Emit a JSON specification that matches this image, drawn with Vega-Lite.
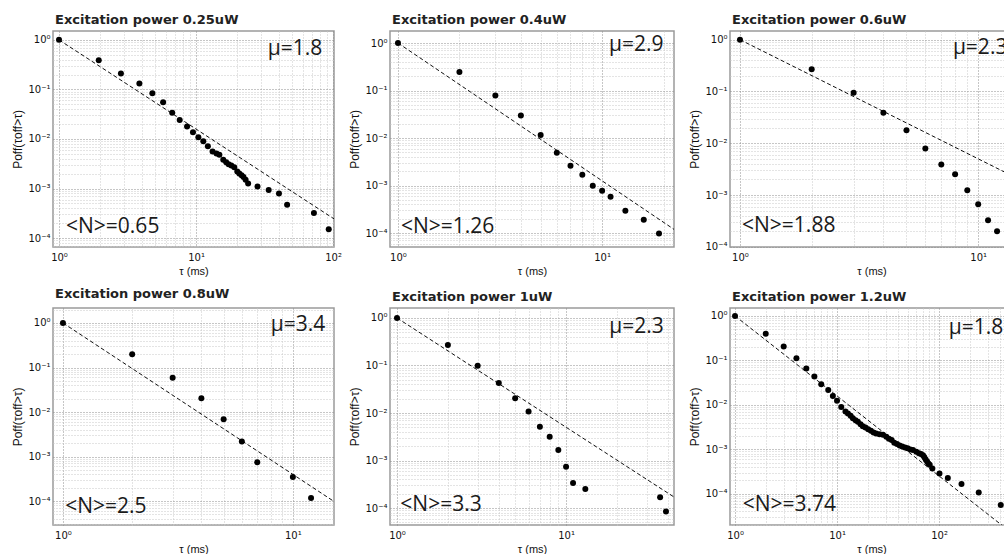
{
  "$schema": "https://vega.github.io/schema/vega-lite/v6.json",
  "background": "white",
  "padding": {"left": 11, "top": 13, "right": 0, "bottom": 0},
  "bounds": "flush",
  "columns": 3,
  "spacing": {"row": 61, "column": 56},
  "datasets": {
    "pts1": [{"tau":1,"p":1},{"tau":1.95,"p":0.39},{"tau":2.83,"p":0.21},{"tau":3.86,"p":0.131},{"tau":4.8,"p":0.084},{"tau":5.75,"p":0.055},{"tau":6.7,"p":0.034},{"tau":7.6,"p":0.0242},{"tau":8.6,"p":0.0178},{"tau":9.5,"p":0.0136},{"tau":10.4,"p":0.0108},{"tau":11.3,"p":0.009},{"tau":12.2,"p":0.0071},{"tau":13.2,"p":0.0056},{"tau":14.1,"p":0.0051},{"tau":14.8,"p":0.0048},{"tau":15.8,"p":0.0038},{"tau":16.6,"p":0.0034},{"tau":17.3,"p":0.0031},{"tau":18.1,"p":0.0029},{"tau":19,"p":0.0027},{"tau":20,"p":0.0022},{"tau":20.7,"p":0.002},{"tau":21.5,"p":0.00185},{"tau":22.2,"p":0.0017},{"tau":23,"p":0.0015},{"tau":24,"p":0.00126},{"tau":28.1,"p":0.0011},{"tau":33.9,"p":0.00093},{"tau":40.3,"p":0.00079},{"tau":46.2,"p":0.00047},{"tau":72.5,"p":0.00032},{"tau":93,"p":0.00015}],
    "pts2": [{"tau":1,"p":1},{"tau":2,"p":0.245},{"tau":3,"p":0.079},{"tau":4,"p":0.03},{"tau":5,"p":0.0116},{"tau":6,"p":0.0049},{"tau":7,"p":0.0026},{"tau":8,"p":0.00169},{"tau":9,"p":0.00099},{"tau":10,"p":0.00078},{"tau":11,"p":0.00058},{"tau":13,"p":0.000295},{"tau":16,"p":0.000191},{"tau":19,"p":0.0000985}],
    "pts3": [{"tau":1,"p":1},{"tau":2,"p":0.268},{"tau":3,"p":0.095},{"tau":4,"p":0.039},{"tau":5,"p":0.0178},{"tau":6,"p":0.0079},{"tau":7,"p":0.0039},{"tau":8,"p":0.00252},{"tau":9,"p":0.00124},{"tau":10,"p":0.000665},{"tau":11,"p":0.000327},{"tau":12,"p":0.0002}],
    "pts4": [{"tau":1,"p":1},{"tau":2,"p":0.198},{"tau":3,"p":0.059},{"tau":4,"p":0.0203},{"tau":5,"p":0.00684},{"tau":6,"p":0.00219},{"tau":7,"p":0.00074},{"tau":10,"p":0.000347},{"tau":12,"p":0.000117}],
    "pts5": [{"tau":1,"p":1},{"tau":2,"p":0.27},{"tau":3,"p":0.099},{"tau":4,"p":0.0428},{"tau":5,"p":0.0204},{"tau":6,"p":0.0107},{"tau":7,"p":0.00515},{"tau":8,"p":0.00318},{"tau":9,"p":0.00166},{"tau":10,"p":0.00074},{"tau":11,"p":0.000336},{"tau":13,"p":0.000251},{"tau":36,"p":0.000168},{"tau":39,"p":0.000085}],
    "pts6": [{"tau":1,"p":1},{"tau":2,"p":0.4},{"tau":3,"p":0.205},{"tau":4,"p":0.112},{"tau":5,"p":0.0655},{"tau":6,"p":0.0433},{"tau":7,"p":0.029},{"tau":8.2,"p":0.0217},{"tau":9.1,"p":0.0159},{"tau":10,"p":0.0123},{"tau":11,"p":0.009},{"tau":12.1,"p":0.0071},{"tau":12.8,"p":0.00638},{"tau":13.6,"p":0.00566},{"tau":14.3,"p":0.00501},{"tau":15.2,"p":0.00452},{"tau":16,"p":0.00415},{"tau":17,"p":0.00368},{"tau":17.9,"p":0.00332},{"tau":19,"p":0.0031},{"tau":20.2,"p":0.00284},{"tau":21.5,"p":0.0026},{"tau":22.8,"p":0.00239},{"tau":24.2,"p":0.00227},{"tau":26.1,"p":0.00219},{"tau":28.2,"p":0.00212},{"tau":30.4,"p":0.00191},{"tau":32.3,"p":0.00172},{"tau":34.3,"p":0.00161},{"tau":36.4,"p":0.0014},{"tau":38.7,"p":0.00131},{"tau":41.1,"p":0.00122},{"tau":43.6,"p":0.00116},{"tau":46.4,"p":0.0011},{"tau":49.2,"p":0.00106},{"tau":52.3,"p":0.00099},{"tau":55.6,"p":0.00096},{"tau":59.9,"p":0.00088},{"tau":63.6,"p":0.00081},{"tau":66.6,"p":0.00078},{"tau":69.6,"p":0.00073},{"tau":71.8,"p":0.00066},{"tau":74,"p":0.00059},{"tau":76.3,"p":0.00053},{"tau":78.6,"p":0.00048},{"tau":81,"p":0.00045},{"tau":86,"p":0.00037},{"tau":101,"p":0.000286},{"tau":122,"p":0.000225},{"tau":166,"p":0.000165},{"tau":245,"p":0.000107},{"tau":403,"p":0.000056}],
    "fit1": [{"tau":1,"p":1},{"tau":110,"p":0.0002116}],
    "fit2": [{"tau":1,"p":1},{"tau":25,"p":0.0000883}],
    "fit3": [{"tau":1,"p":1},{"tau":15,"p":0.00197}],
    "fit4": [{"tau":1,"p":1},{"tau":16,"p":0.0000805}],
    "fit5": [{"tau":1,"p":1},{"tau":45,"p":0.000158}],
    "fit6": [{"tau":1,"p":1},{"tau":600,"p":0.00001}]
  },
  "concat": [
        {
          "width": 281, "height": 216,
          "title": {"text": "Excitation power 0.25uW"},
          "layer": [
            {"data": {"name": "fit1"}, "mark": {"type": "line", "clip": true, "color": "#111", "strokeWidth": 1, "strokeDash": [4, 2.5]},
             "encoding": {
               "x": {"field": "tau", "type": "quantitative", "scale": {"type": "log", "domain": [0.904, 101.6], "nice": false},
                     "axis": {"title": "τ (ms)", "values": [1,2,3,4,5,6,7,8,9,10,20,30,40,50,60,70,80,90,100], "gridColor": {"condition": {"test": "indexof([1,10,100,0.1,0.01,0.001,0.0001], datum.value) >= 0", "value": "#8c8c8c"}, "value": "#c8c8c8"}}},
               "y": {"field": "p", "type": "quantitative", "scale": {"type": "log", "domain": [0.000066, 1.51], "nice": false},
                     "axis": {"title": "Poff(τoff>τ)", "values": [0.00007,0.00008,0.00009,0.0001,0.0002,0.0003,0.0004,0.0005,0.0006,0.0007,0.0008,0.0009,0.001,0.002,0.003,0.004,0.005,0.006,0.007,0.008,0.009,0.01,0.02,0.03,0.04,0.05,0.06,0.07,0.08,0.09,0.1,0.2,0.3,0.4,0.5,0.6,0.7,0.8,0.9,1], "gridColor": {"condition": {"test": "indexof([1,10,100,0.1,0.01,0.001,0.0001], datum.value) >= 0", "value": "#8c8c8c"}, "value": "#c8c8c8"}}}
             }},
            {"data": {"name": "pts1"}, "mark": {"type": "circle", "size": 36, "color": "#000", "opacity": 1, "clip": true},
             "encoding": {"x": {"field": "tau", "type": "quantitative"}, "y": {"field": "p", "type": "quantitative"}}},
            {"data": {"values": [{}]}, "mark": {"type": "text", "text": "μ=1.8", "align": "left", "baseline": "alphabetic", "font": "Open Sans", "fontSize": 21, "color": "#1a1a1a"},
             "encoding": {"x": {"datum": 33.4}, "y": {"datum": 0.498}}},
            {"data": {"values": [{}]}, "mark": {"type": "text", "text": "<N>=0.65", "align": "left", "baseline": "alphabetic", "font": "Open Sans", "fontSize": 21, "color": "#1a1a1a"},
             "encoding": {"x": {"datum": 1.125}, "y": {"datum": 0.000126}}}
          ]
        },
        {
          "width": 284, "height": 216,
          "title": {"text": "Excitation power 0.4uW"},
          "layer": [
            {"data": {"name": "fit2"}, "mark": {"type": "line", "clip": true, "color": "#111", "strokeWidth": 1, "strokeDash": [4, 2.5]},
             "encoding": {
               "x": {"field": "tau", "type": "quantitative", "scale": {"type": "log", "domain": [0.914, 22.5], "nice": false},
                     "axis": {"title": "τ (ms)", "values": [1,2,3,4,5,6,7,8,9,10,20], "gridColor": {"condition": {"test": "indexof([1,10,100,0.1,0.01,0.001,0.0001], datum.value) >= 0", "value": "#8c8c8c"}, "value": "#c8c8c8"}}},
               "y": {"field": "p", "type": "quantitative", "scale": {"type": "log", "domain": [0.000051, 1.79], "nice": false},
                     "axis": {"title": "Poff(τoff>τ)", "values": [0.00006,0.00007,0.00008,0.00009,0.0001,0.0002,0.0003,0.0004,0.0005,0.0006,0.0007,0.0008,0.0009,0.001,0.002,0.003,0.004,0.005,0.006,0.007,0.008,0.009,0.01,0.02,0.03,0.04,0.05,0.06,0.07,0.08,0.09,0.1,0.2,0.3,0.4,0.5,0.6,0.7,0.8,0.9,1], "gridColor": {"condition": {"test": "indexof([1,10,100,0.1,0.01,0.001,0.0001], datum.value) >= 0", "value": "#8c8c8c"}, "value": "#c8c8c8"}}}
             }},
            {"data": {"name": "pts2"}, "mark": {"type": "circle", "size": 36, "color": "#000", "opacity": 1, "clip": true},
             "encoding": {"x": {"field": "tau", "type": "quantitative"}, "y": {"field": "p", "type": "quantitative"}}},
            {"data": {"values": [{}]}, "mark": {"type": "text", "text": "μ=2.9", "align": "left", "baseline": "alphabetic", "font": "Open Sans", "fontSize": 21, "color": "#1a1a1a"},
             "encoding": {"x": {"datum": 10.8}, "y": {"datum": 0.68}}},
            {"data": {"values": [{}]}, "mark": {"type": "text", "text": "<N>=1.26", "align": "left", "baseline": "alphabetic", "font": "Open Sans", "fontSize": 21, "color": "#1a1a1a"},
             "encoding": {"x": {"datum": 1.034}, "y": {"datum": 0.000101}}}
          ]
        },
        {
          "width": 283, "height": 216,
          "title": {"text": "Excitation power 0.6uW"},
          "layer": [
            {"data": {"name": "fit3"}, "mark": {"type": "line", "clip": true, "color": "#111", "strokeWidth": 1, "strokeDash": [4, 2.5]},
             "encoding": {
               "x": {"field": "tau", "type": "quantitative", "scale": {"type": "log", "domain": [0.908, 14.0], "nice": false},
                     "axis": {"title": "τ (ms)", "values": [1,2,3,4,5,6,7,8,9,10], "gridColor": {"condition": {"test": "indexof([1,10,100,0.1,0.01,0.001,0.0001], datum.value) >= 0", "value": "#8c8c8c"}, "value": "#c8c8c8"}}},
               "y": {"field": "p", "type": "quantitative", "scale": {"type": "log", "domain": [0.0000995, 1.47], "nice": false},
                     "axis": {"title": "Poff(τoff>τ)", "values": [0.0001,0.0002,0.0003,0.0004,0.0005,0.0006,0.0007,0.0008,0.0009,0.001,0.002,0.003,0.004,0.005,0.006,0.007,0.008,0.009,0.01,0.02,0.03,0.04,0.05,0.06,0.07,0.08,0.09,0.1,0.2,0.3,0.4,0.5,0.6,0.7,0.8,0.9,1], "gridColor": {"condition": {"test": "indexof([1,10,100,0.1,0.01,0.001,0.0001], datum.value) >= 0", "value": "#8c8c8c"}, "value": "#c8c8c8"}}}
             }},
            {"data": {"name": "pts3"}, "mark": {"type": "circle", "size": 36, "color": "#000", "opacity": 1, "clip": true},
             "encoding": {"x": {"field": "tau", "type": "quantitative"}, "y": {"field": "p", "type": "quantitative"}}},
            {"data": {"values": [{}]}, "mark": {"type": "text", "text": "μ=2.3", "align": "left", "baseline": "alphabetic", "font": "Open Sans", "fontSize": 21, "color": "#1a1a1a"},
             "encoding": {"x": {"datum": 7.83}, "y": {"datum": 0.537}}},
            {"data": {"values": [{}]}, "mark": {"type": "text", "text": "<N>=1.88", "align": "left", "baseline": "alphabetic", "font": "Open Sans", "fontSize": 21, "color": "#1a1a1a"},
             "encoding": {"x": {"datum": 1.02}, "y": {"datum": 0.000195}}}
          ]
        },
        {
          "width": 281, "height": 217,
          "title": {"text": "Excitation power 0.8uW"},
          "layer": [
            {"data": {"name": "fit4"}, "mark": {"type": "line", "clip": true, "color": "#111", "strokeWidth": 1, "strokeDash": [4, 2.5]},
             "encoding": {
               "x": {"field": "tau", "type": "quantitative", "scale": {"type": "log", "domain": [0.905, 15.1], "nice": false},
                     "axis": {"title": "τ (ms)", "values": [1,2,3,4,5,6,7,8,9,10], "gridColor": {"condition": {"test": "indexof([1,10,100,0.1,0.01,0.001,0.0001], datum.value) >= 0", "value": "#8c8c8c"}, "value": "#c8c8c8"}}},
               "y": {"field": "p", "type": "quantitative", "scale": {"type": "log", "domain": [0.000029, 2.17], "nice": false},
                     "axis": {"title": "Poff(τoff>τ)", "values": [0.00003,0.00004,0.00005,0.00006,0.00007,0.00008,0.00009,0.0001,0.0002,0.0003,0.0004,0.0005,0.0006,0.0007,0.0008,0.0009,0.001,0.002,0.003,0.004,0.005,0.006,0.007,0.008,0.009,0.01,0.02,0.03,0.04,0.05,0.06,0.07,0.08,0.09,0.1,0.2,0.3,0.4,0.5,0.6,0.7,0.8,0.9,1,2], "gridColor": {"condition": {"test": "indexof([1,10,100,0.1,0.01,0.001,0.0001], datum.value) >= 0", "value": "#8c8c8c"}, "value": "#c8c8c8"}}}
             }},
            {"data": {"name": "pts4"}, "mark": {"type": "circle", "size": 36, "color": "#000", "opacity": 1, "clip": true},
             "encoding": {"x": {"field": "tau", "type": "quantitative"}, "y": {"field": "p", "type": "quantitative"}}},
            {"data": {"values": [{}]}, "mark": {"type": "text", "text": "μ=3.4", "align": "left", "baseline": "alphabetic", "font": "Open Sans", "fontSize": 21, "color": "#1a1a1a"},
             "encoding": {"x": {"datum": 8.02}, "y": {"datum": 0.66}}},
            {"data": {"values": [{}]}, "mark": {"type": "text", "text": "<N>=2.5", "align": "left", "baseline": "alphabetic", "font": "Open Sans", "fontSize": 21, "color": "#1a1a1a"},
             "encoding": {"x": {"datum": 1.023}, "y": {"datum": 0.0000546}}}
          ]
        },
        {
          "width": 284, "height": 217,
          "title": {"text": "Excitation power 1uW"},
          "layer": [
            {"data": {"name": "fit5"}, "mark": {"type": "line", "clip": true, "color": "#111", "strokeWidth": 1, "strokeDash": [4, 2.5]},
             "encoding": {
               "x": {"field": "tau", "type": "quantitative", "scale": {"type": "log", "domain": [0.909, 43.5], "nice": false},
                     "axis": {"title": "τ (ms)", "values": [1,2,3,4,5,6,7,8,9,10,20,30,40], "gridColor": {"condition": {"test": "indexof([1,10,100,0.1,0.01,0.001,0.0001], datum.value) >= 0", "value": "#8c8c8c"}, "value": "#c8c8c8"}}},
               "y": {"field": "p", "type": "quantitative", "scale": {"type": "log", "domain": [0.000044, 1.62], "nice": false},
                     "axis": {"title": "Poff(τoff>τ)", "values": [0.00005,0.00006,0.00007,0.00008,0.00009,0.0001,0.0002,0.0003,0.0004,0.0005,0.0006,0.0007,0.0008,0.0009,0.001,0.002,0.003,0.004,0.005,0.006,0.007,0.008,0.009,0.01,0.02,0.03,0.04,0.05,0.06,0.07,0.08,0.09,0.1,0.2,0.3,0.4,0.5,0.6,0.7,0.8,0.9,1], "gridColor": {"condition": {"test": "indexof([1,10,100,0.1,0.01,0.001,0.0001], datum.value) >= 0", "value": "#8c8c8c"}, "value": "#c8c8c8"}}}
             }},
            {"data": {"name": "pts5"}, "mark": {"type": "circle", "size": 36, "color": "#000", "opacity": 1, "clip": true},
             "encoding": {"x": {"field": "tau", "type": "quantitative"}, "y": {"field": "p", "type": "quantitative"}}},
            {"data": {"values": [{}]}, "mark": {"type": "text", "text": "μ=2.3", "align": "left", "baseline": "alphabetic", "font": "Open Sans", "fontSize": 21, "color": "#1a1a1a"},
             "encoding": {"x": {"datum": 18.0}, "y": {"datum": 0.49}}},
            {"data": {"values": [{}]}, "mark": {"type": "text", "text": "<N>=3.3", "align": "left", "baseline": "alphabetic", "font": "Open Sans", "fontSize": 21, "color": "#1a1a1a"},
             "encoding": {"x": {"datum": 1.046}, "y": {"datum": 0.0000865}}}
          ]
        },
        {
          "width": 283, "height": 217,
          "title": {"text": "Excitation power 1.2uW"},
          "layer": [
            {"data": {"name": "fit6"}, "mark": {"type": "line", "clip": true, "color": "#111", "strokeWidth": 1, "strokeDash": [4, 2.5]},
             "encoding": {
               "x": {"field": "tau", "type": "quantitative", "scale": {"type": "log", "domain": [0.893, 531], "nice": false},
                     "axis": {"title": "τ (ms)", "values": [1,2,3,4,5,6,7,8,9,10,20,30,40,50,60,70,80,90,100,200,300,400,500], "gridColor": {"condition": {"test": "indexof([1,10,100,0.1,0.01,0.001,0.0001], datum.value) >= 0", "value": "#8c8c8c"}, "value": "#c8c8c8"}}},
               "y": {"field": "p", "type": "quantitative", "scale": {"type": "log", "domain": [0.0000198, 1.51], "nice": false},
                     "axis": {"title": "Poff(τoff>τ)", "values": [0.00002,0.00003,0.00004,0.00005,0.00006,0.00007,0.00008,0.00009,0.0001,0.0002,0.0003,0.0004,0.0005,0.0006,0.0007,0.0008,0.0009,0.001,0.002,0.003,0.004,0.005,0.006,0.007,0.008,0.009,0.01,0.02,0.03,0.04,0.05,0.06,0.07,0.08,0.09,0.1,0.2,0.3,0.4,0.5,0.6,0.7,0.8,0.9,1], "gridColor": {"condition": {"test": "indexof([1,10,100,0.1,0.01,0.001,0.0001], datum.value) >= 0", "value": "#8c8c8c"}, "value": "#c8c8c8"}}}
             }},
            {"data": {"name": "pts6"}, "mark": {"type": "circle", "size": 36, "color": "#000", "opacity": 1, "clip": true},
             "encoding": {"x": {"field": "tau", "type": "quantitative"}, "y": {"field": "p", "type": "quantitative"}}},
            {"data": {"values": [{}]}, "mark": {"type": "text", "text": "μ=1.8", "align": "left", "baseline": "alphabetic", "font": "Open Sans", "fontSize": 21, "color": "#1a1a1a"},
             "encoding": {"x": {"datum": 124.5}, "y": {"datum": 0.388}}},
            {"data": {"values": [{}]}, "mark": {"type": "text", "text": "<N>=3.74", "align": "left", "baseline": "alphabetic", "font": "Open Sans", "fontSize": 21, "color": "#1a1a1a"},
             "encoding": {"x": {"datum": 1.19}, "y": {"datum": 0.00004}}}
          ]
        }
  ],
  "config": {
    "view": {"stroke": "#9a9a9a", "strokeWidth": 1.5},
    "axis": {
      "grid": true, "gridDash": [1, 2], "gridWidth": 1, "domain": false, "ticks": false,
      "tickCount": 500,
      "labelFont": "DejaVu Sans", "labelFontSize": 10, "labelColor": "#111", "labelPadding": 3,
      "labelOverlap": false, "labelFlush": false, "labelBound": false,
      "labelExpr": "datum.value===1?'10⁰':datum.value===10?'10¹':datum.value===100?'10²':datum.value===0.1?'10⁻¹':datum.value===0.01?'10⁻²':datum.value===0.001?'10⁻³':datum.value===0.0001?'10⁻⁴':''",
      "titleFont": "Liberation Sans", "titleFontSize": 11, "titleFontWeight": "normal", "titleColor": "#111"
    },
    "axisX": {"titlePadding": 3, "labelPadding": 5},
    "axisY": {"titlePadding": 3, "titleFontSize": 12},
    "title": {"anchor": "start", "frame": "group", "font": "DejaVu Sans", "fontSize": 13, "fontWeight": "bold", "color": "#222", "offset": 0, "baseline": "alphabetic", "dx": 2}
  }
}
